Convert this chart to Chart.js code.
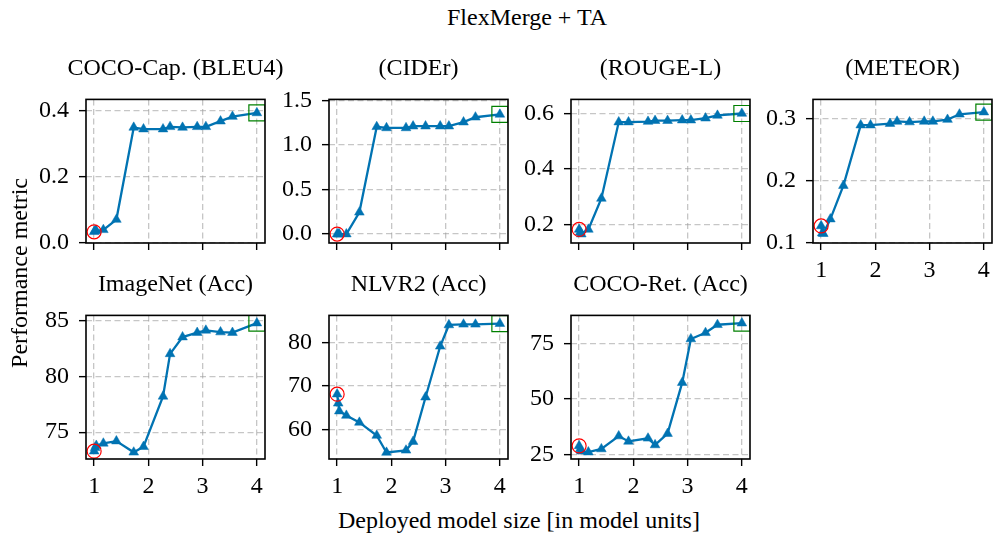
<!DOCTYPE html>
<html><head><meta charset="utf-8">
<script src="https://cdn.jsdelivr.net/npm/chart.js@4/dist/chart.umd.min.js"></script>
<style>
html,body{margin:0;padding:0;background:#fff;}
#fig{position:relative;width:995px;height:535px;overflow:hidden;font-family:"Liberation Serif","Times New Roman",serif;color:#000;background:#fff;}
canvas{position:absolute;}
.txt{position:absolute;white-space:nowrap;font-size:24px;line-height:24px;}
</style></head><body><div id="fig"></div>
<script>
// ---- data ----
const modelSizes = [1.0, 1.02, 1.04, 1.17, 1.41, 1.73, 1.91, 2.27, 2.40, 2.63, 2.90, 3.06, 3.33, 3.55, 4.0];
const bleu4    = [0.032, 0.036, 0.035, 0.038, 0.069, 0.348, 0.343, 0.343, 0.350, 0.348, 0.350, 0.350, 0.367, 0.381, 0.392];
const cider    = [0.0, 0.0, 0.0, 0.0, 0.244, 1.203, 1.19, 1.19, 1.21, 1.21, 1.21, 1.21, 1.255, 1.31, 1.342];
const rougeL   = [0.182, 0.172, 0.165, 0.182, 0.294, 0.570, 0.570, 0.572, 0.575, 0.575, 0.577, 0.577, 0.584, 0.594, 0.601];
const meteor   = [0.1275, 0.116, 0.115, 0.1385, 0.1925, 0.290, 0.290, 0.2925, 0.296, 0.295, 0.296, 0.296, 0.299, 0.3075, 0.311];
const imagenet = [73.3, 73.6, 73.8, 74.0, 74.2, 73.2, 73.7, 78.2, 82.0, 83.5, 83.9, 84.1, 83.95, 83.9, 84.75];
const nlvr2    = [68.1, 66.0, 64.2, 63.2, 61.6, 58.6, 54.7, 55.2, 57.2, 67.4, 79.1, 84.0, 84.15, 84.15, 84.3];
const cocoRet  = [28.9, 27.5, 26.5, 26.1, 27.5, 33.3, 30.9, 32.3, 29.3, 34.4, 57.3, 76.9, 79.7, 83.3, 84.0];

const xTickValues = [1, 2, 3, 4];
const bleu4Ticks = [0.0, 0.2, 0.4];
const ciderTicks = [0.0, 0.5, 1.0, 1.5];
const rougeTicks = [0.2, 0.4, 0.6];
const meteorTicks = [0.1, 0.2, 0.3];
const imagenetTicks = [75, 80, 85];
const nlvr2Ticks = [60, 70, 80];
const cocoRetTicks = [25, 50, 75];

const panelTitles = ['COCO-Cap. (BLEU4)', '(CIDEr)', '(ROUGE-L)', '(METEOR)', 'ImageNet (Acc)', 'NLVR2 (Acc)', 'COCO-Ret. (Acc)'];
const figTitle = 'FlexMerge + TA';
const xLabel = 'Deployed model size [in model units]';
const yLabel = 'Performance metric';

// ---- layout / style ----
const BLUE = '#0173b2';
const GRID = 'rgba(160,160,160,0.6)';
const FONT = '"Liberation Serif", "Times New Roman", serif';
const COLS = [86, 329, 571, 813], ROWS = [89, 305];
const W = 179, H = 154, AXW = 70, AXH = 46, PT = 14, PR = 14;

const panels = [
  {values: bleu4,    ticks: bleu4Ticks,    dec: 1, min: -0.002, max: 0.433, c: 0, r: 0, showX: false},
  {values: cider,    ticks: ciderTicks,    dec: 1, min: -0.10,  max: 1.51,  c: 1, r: 0, showX: false},
  {values: rougeL,   ticks: rougeTicks,    dec: 1, min: 0.133,  max: 0.652, c: 2, r: 0, showX: false},
  {values: meteor,   ticks: meteorTicks,   dec: 1, min: 0.10,   max: 0.3315,c: 3, r: 0, showX: true},
  {values: imagenet, ticks: imagenetTicks, dec: 0, min: 72.6,   max: 85.44, c: 0, r: 1, showX: true},
  {values: nlvr2,    ticks: nlvr2Ticks,    dec: 0, min: 53.2,   max: 86.2,  c: 1, r: 1, showX: true},
  {values: cocoRet,  ticks: cocoRetTicks,  dec: 0, min: 23.0,   max: 87.5,  c: 2, r: 1, showX: true}
];

const fig = document.getElementById('fig');
function addText(txt, css) {
  const d = document.createElement('div');
  d.className = 'txt';
  d.textContent = txt;
  Object.assign(d.style, css);
  fig.appendChild(d);
  return d;
}

const framePlugin = {
  id: 'frame',
  afterDatasetsDraw(chart) {
    const {ctx, chartArea: a} = chart;
    ctx.save();
    ctx.strokeStyle = '#000';
    ctx.lineWidth = 1.6;
    ctx.strokeRect(a.left, a.top, a.right - a.left, a.bottom - a.top);
    ctx.restore();
  }
};

panels.forEach((p, i) => {
  const cv = document.createElement('canvas');
  cv.width = AXW + W + PR;
  cv.height = PT + H + AXH;
  cv.style.left = (COLS[p.c] - AXW) + 'px';
  cv.style.top = (ROWS[p.r] - PT) + 'px';
  fig.appendChild(cv);

  const pts = modelSizes.map((x, k) => ({x: x, y: p.values[k]}));
  const last = pts.length - 1;

  new Chart(cv, {
    type: 'scatter',
    data: {
      datasets: [
        {data: [pts[0]], pointStyle: 'circle', pointRadius: 7, pointBorderColor: 'red', pointBackgroundColor: 'rgba(0,0,0,0)', pointBorderWidth: 1.2, showLine: false, clip: 0, order: 0},
        {data: [pts[last]], pointStyle: 'rect', pointRadius: 11.3, pointBorderColor: 'green', pointBackgroundColor: 'rgba(0,0,0,0)', pointBorderWidth: 1.2, showLine: false, clip: 0, order: 0},
        {data: pts, showLine: true, borderColor: BLUE, backgroundColor: BLUE, borderWidth: 2.3, tension: 0,
         pointStyle: 'triangle', pointRadius: 5.6, pointBackgroundColor: BLUE, pointBorderColor: BLUE, pointBorderWidth: 0.5, clip: 0, order: 1}
      ]
    },
    options: {
      responsive: false, animation: false, devicePixelRatio: 1, events: [],
      layout: {padding: {top: PT, right: PR, left: 0, bottom: 0}},
      plugins: {legend: {display: false}, tooltip: {enabled: false}, title: {display: false}},
      scales: {
        x: {
          type: 'linear', position: 'bottom', min: 0.85, max: 4.15,
          afterBuildTicks: s => { s.ticks = xTickValues.map(v => ({value: v})); },
          afterFit: s => { s.height = AXH; },
          grid: {color: GRID, lineWidth: 1.3, drawTicks: true, tickLength: 7, tickColor: '#000', tickWidth: 1.4, tickBorderDash: []},
          border: {display: false, dash: [6, 3.5]},
          ticks: {display: p.showX, color: '#000', padding: 6, maxRotation: 0, font: {family: FONT, size: 24}, callback: v => String(v)}
        },
        y: {
          type: 'linear', position: 'left', min: p.min, max: p.max,
          afterBuildTicks: s => { s.ticks = p.ticks.map(v => ({value: v})); },
          afterFit: s => { s.width = AXW; },
          grid: {color: GRID, lineWidth: 1.3, drawTicks: true, tickLength: 7, tickColor: '#000', tickWidth: 1.4, tickBorderDash: []},
          border: {display: false, dash: [6, 3.5]},
          ticks: {color: '#000', padding: 10, font: {family: FONT, size: 24}, callback: v => Number(v).toFixed(p.dec)}
        }
      }
    },
    plugins: [framePlugin]
  });

  addText(panelTitles[i], {left: (COLS[p.c] + W / 2) + 'px', transform: 'translateX(-50%)', top: (ROWS[p.r] - 34) + 'px'});
});

addText(figTitle, {left: '447px', top: '5px'});
addText(xLabel, {left: '338px', top: '508px'});
addText(yLabel, {left: (19 - 120) + 'px', width: '240px', textAlign: 'center', top: (273 - 12) + 'px', transform: 'rotate(-90deg)', transformOrigin: '50% 50%'});
</script>
</body></html>
